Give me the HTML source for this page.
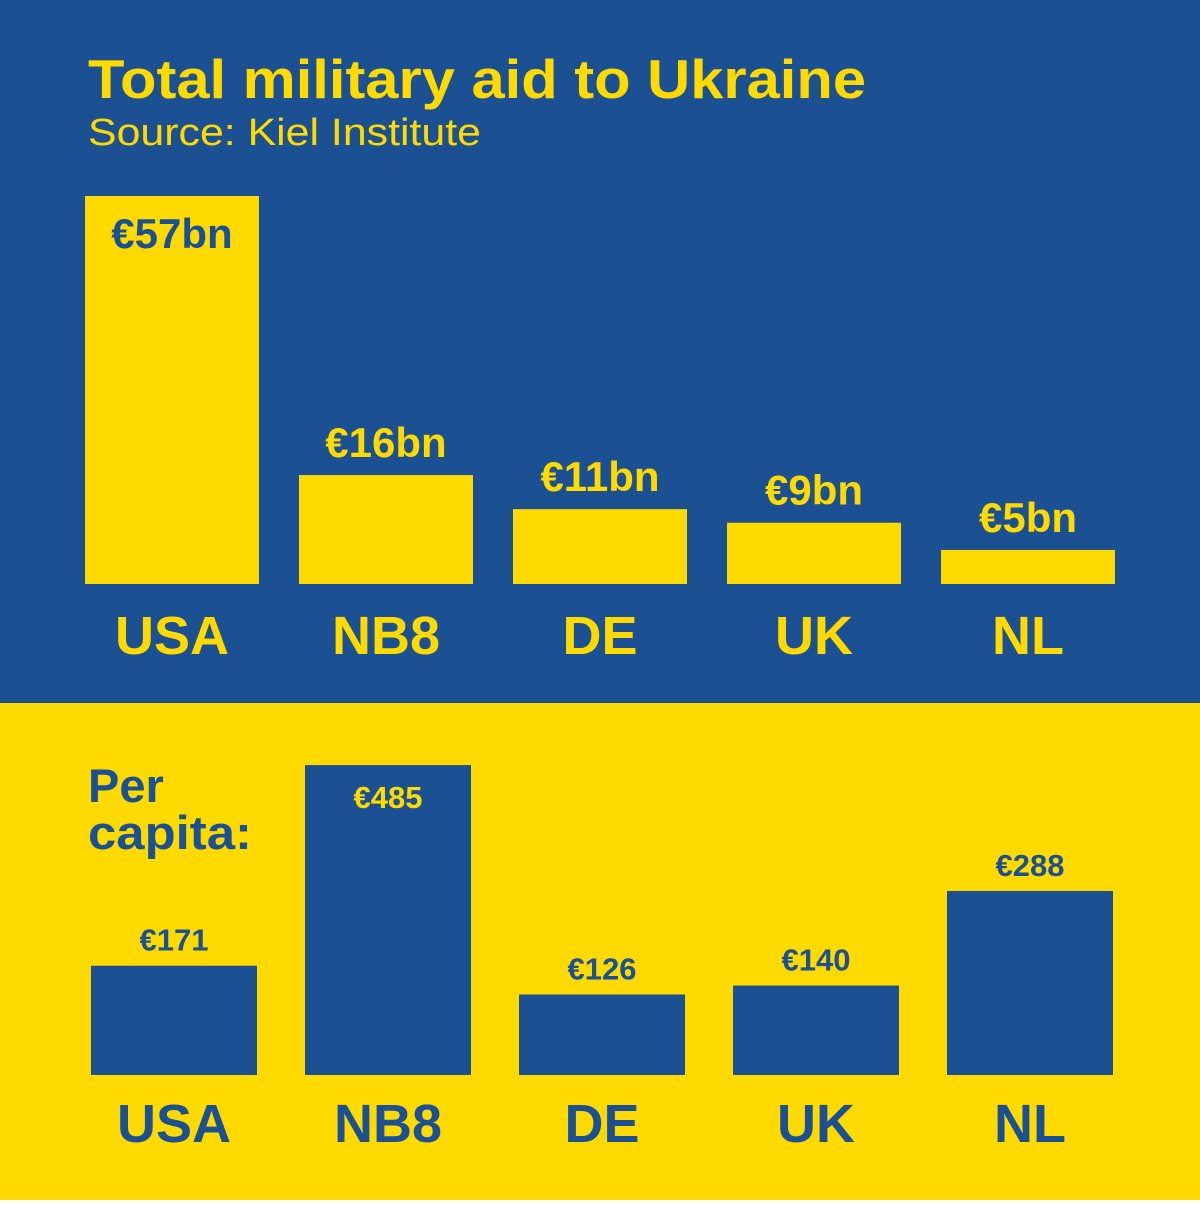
<!DOCTYPE html>
<html><head><meta charset="utf-8"><style>
html,body{margin:0;padding:0}
body{width:1200px;height:1200px;overflow:hidden;font-family:"Liberation Sans",sans-serif}
svg text{font-family:"Liberation Sans",sans-serif;font-weight:bold}
</style></head><body>
<svg id="chart" width="1200" height="1200" xmlns="http://www.w3.org/2000/svg">
<rect x="0" y="0" width="1200" height="703" fill="#1B5193"/>
<rect x="0" y="703" width="1200" height="497" fill="#FFDA00"/>
<text x="88" y="98" font-size="55" textLength="778" lengthAdjust="spacingAndGlyphs" fill="#FFDA00">Total military aid to Ukraine</text>
<text x="88" y="145" font-size="38" textLength="393" lengthAdjust="spacingAndGlyphs" fill="#FFDA00" style="font-weight:normal">Source: Kiel Institute</text>
<text x="88" y="802" font-size="47" fill="#1B5193">Per</text>
<text x="88" y="849" font-size="47" textLength="164" lengthAdjust="spacingAndGlyphs" fill="#1B5193">capita:</text>
<g id="gtop"></g><g id="gbot"></g>
</svg>
<script>
const categories = ["USA","NB8","DE","UK","NL"];
const totalValues = [57,16,11,9,5];
const totalLabels = ["€57bn","€16bn","€11bn","€9bn","€5bn"];
const perCapitaValues = [171,485,126,140,288];
const perCapitaLabels = ["€171","€485","€126","€140","€288"];

const NS="http://www.w3.org/2000/svg";
function mk(tag,attrs,parent){const e=document.createElementNS(NS,tag);for(const k in attrs)e.setAttribute(k,attrs[k]);parent.appendChild(e);return e;}
const yTop=v=>584-v*6.807;
const yBot=v=>1075-v*0.639;
const gTop=document.getElementById('gtop'), gBot=document.getElementById('gbot');
const maxT=Math.max(...totalValues), maxB=Math.max(...perCapitaValues);
categories.forEach((c,i)=>{
  const x=85+i*214, w=174, y=yTop(totalValues[i]);
  const r=mk('rect',{x:x,y:y,width:w,height:584-y,fill:'#FFDA00'},gTop);
  
  
  const inside=totalValues[i]===maxT;
  const t=mk('text',{x:x+w/2,y:inside?y+52:y-18,'font-size':42,'text-anchor':'middle',fill:inside?'#1B5193':'#FFDA00'},gTop);
  t.textContent=totalLabels[i];
  
  
  const l=mk('text',{x:x+w/2,y:654,'font-size':54,'text-anchor':'middle',fill:'#FFDA00'},gTop);
  l.textContent=c;
  
  

  const bx=91+i*214, bw=166, by=yBot(perCapitaValues[i]);
  const b=mk('rect',{x:bx,y:by,width:bw,height:1075-by,fill:'#1B5193'},gBot);
  
  
  const ins=perCapitaValues[i]===maxB;
  const bt=mk('text',{x:bx+bw/2,y:ins?by+43:by-15,'font-size':31,'text-anchor':'middle',fill:ins?'#FFDA00':'#1B5193'},gBot);
  bt.textContent=perCapitaLabels[i];
  
  
  const bl=mk('text',{x:bx+bw/2,y:1142,'font-size':54,'text-anchor':'middle',fill:'#1B5193'},gBot);
  bl.textContent=c;
  
  
});
</script>
</body></html>
